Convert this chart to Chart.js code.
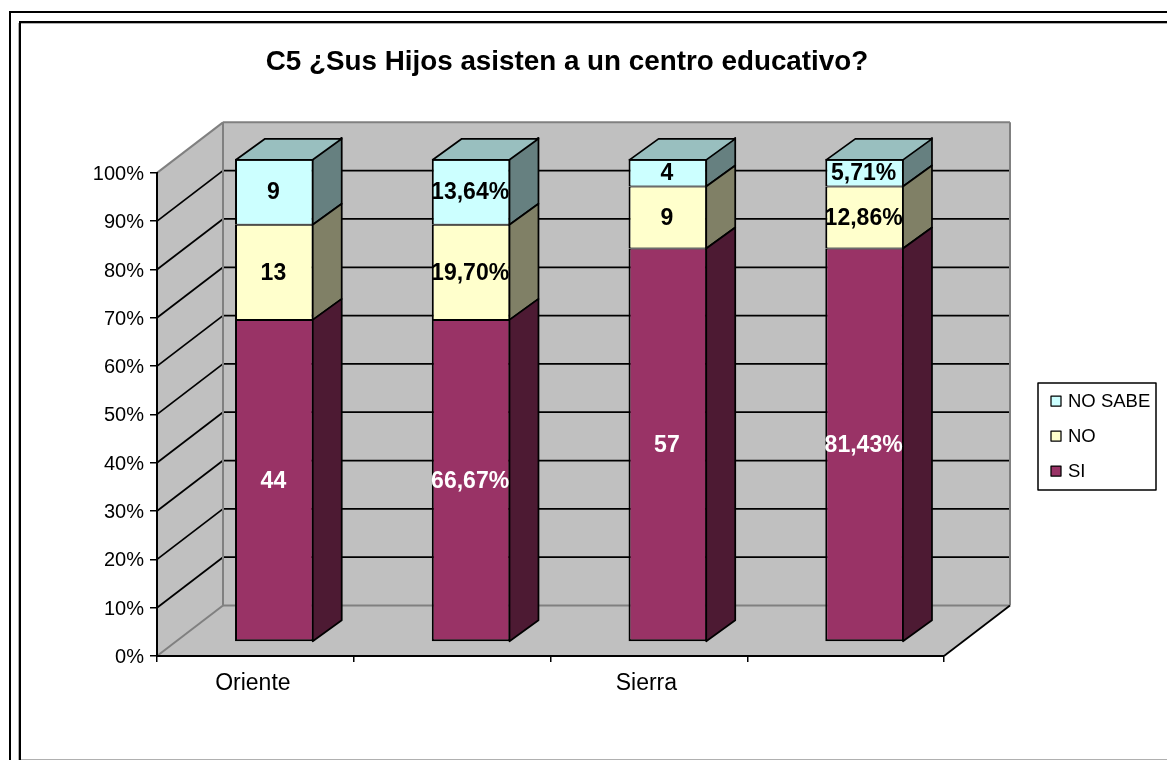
<!DOCTYPE html>
<html>
<head>
<meta charset="utf-8">
<title>C5</title>
<script src="https://cdn.jsdelivr.net/npm/chart.js@4/dist/chart.umd.min.js"></script>
<style>
html, body { margin: 0; padding: 0; background: #fff; overflow: hidden; }
#wrap { position: absolute; left: 0; top: 0; width: 1167px; height: 760px; }
</style>
</head>
<body>
<div id="wrap"><canvas id="c5chart"></canvas></div>
<script>
// data
const categories = ['Oriente', '', 'Sierra', ''];
const siValues = [66.67, 66.67, 81.43, 81.43];
const noValues = [19.70, 19.70, 12.86, 12.86];
const noSabeValues = [13.64, 13.64, 5.71, 5.71];

// text printed on the bars (counts and percentages alternate)
const siLabels = ['44', '66,67%', '57', '81,43%'];
const noLabels = ['13', '19,70%', '9', '12,86%'];
const noSabeLabels = ['9', '13,64%', '4', '5,71%'];

const chartTitle = 'C5 ¿Sus Hijos asisten a un centro educativo?';
const FONT = '"Liberation Sans", Arial, sans-serif';

// 3d look: how far the back wall and the bars sit behind the axes
const wallDepth = { x: 66, y: -50.5 };
const barShift = { x: 19, y: -14 };
const barDepth = { x: 29, y: -21 };

function poly(ctx, pts, fill, stroke, lw) {
    ctx.beginPath();
    pts.forEach((p, i) => i ? ctx.lineTo(p[0], p[1]) : ctx.moveTo(p[0], p[1]));
    ctx.closePath();
    if (fill) { ctx.fillStyle = fill; ctx.fill(); }
    if (stroke) { ctx.strokeStyle = stroke; ctx.lineWidth = lw; ctx.lineJoin = 'round'; ctx.stroke(); }
}

function line(ctx, x1, y1, x2, y2, color, lw) {
    ctx.beginPath();
    ctx.moveTo(x1, y1);
    ctx.lineTo(x2, y2);
    ctx.strokeStyle = color;
    ctx.lineWidth = lw;
    ctx.stroke();
}

// the frames around the chart and the grey box walls + floor
const wallsPlugin = {
    id: 'walls',
    afterLayout(chart) {
        // title is centred on the whole frame, not on the plot
        chart.titleBlock.left = 0;
        chart.titleBlock.right = 1134;
    },
    beforeDraw(chart) {
        const ctx = chart.ctx;
        const a = chart.chartArea;
        const dx = wallDepth.x, dy = wallDepth.y;
        const yScale = chart.scales.y;
        ctx.save();

        ctx.fillStyle = '#000';
        ctx.fillRect(9, 11, 1158, 2);
        ctx.fillRect(9, 11, 2, 749);
        ctx.fillRect(19, 21, 1148, 2);
        ctx.fillRect(19, 21, 2, 739);
        ctx.fillStyle = '#b0b0b0';
        ctx.fillRect(18, 23, 1, 737);
        ctx.fillRect(21, 23, 1146, 1);
        ctx.fillRect(21, 759, 1146, 1);

        const g = '#c0c0c0';
        poly(ctx, [[a.left + dx, a.top + dy], [a.right + dx, a.top + dy], [a.right + dx, a.bottom + dy], [a.left + dx, a.bottom + dy]], g);
        poly(ctx, [[a.left, a.top], [a.left + dx, a.top + dy], [a.left + dx, a.bottom + dy], [a.left, a.bottom]], g);
        poly(ctx, [[a.left, a.bottom], [a.left + dx, a.bottom + dy], [a.right + dx, a.bottom + dy], [a.right, a.bottom]], g);

        // gridlines run along the side wall and the back wall
        yScale.ticks.forEach(t => {
            if (t.value === 0 || t.value === 100) return;
            const y = yScale.getPixelForValue(t.value);
            line(ctx, a.left, y, a.left + dx, y + dy, '#000', 1.75);
            line(ctx, a.left + dx, y + dy, a.right + dx, y + dy, '#000', 1.75);
        });

        const edge = '#808080';
        line(ctx, a.left, a.top, a.left + dx, a.top + dy, edge, 2);
        line(ctx, a.left + dx, a.top + dy, a.right + dx, a.top + dy, edge, 2);
        line(ctx, a.right + dx, a.top + dy, a.right + dx, a.bottom + dy, edge, 2);
        line(ctx, a.left + dx, a.top + dy, a.left + dx, a.bottom + dy, edge, 2);
        line(ctx, a.left + dx, a.bottom + dy, a.right + dx, a.bottom + dy, edge, 2);
        line(ctx, a.left, a.bottom, a.left + dx, a.bottom + dy, edge, 2);
        line(ctx, a.right, a.bottom, a.right + dx, a.bottom + dy, '#000', 1.75);
        ctx.restore();
    },
    beforeDatasetDraw(chart) {
        chart.ctx.save();
        chart.ctx.translate(barShift.x, barShift.y);
    },
    afterDatasetDraw(chart, args) {
        const ctx = chart.ctx;
        const ds = chart.data.datasets[args.index];
        const last = args.index === chart.data.datasets.length - 1;
        const dx = barDepth.x, dy = barDepth.y;
        args.meta.data.forEach(el => {
            const p = el.getProps(['x', 'y', 'base', 'width'], true);
            const l = p.x - p.width / 2, r = p.x + p.width / 2;
            poly(ctx, [[r - 1, p.y], [r - 1 + dx, p.y + dy], [r - 1 + dx, p.base + dy], [r - 1, p.base]], ds.sideColor, '#000', 1.75);
            if (last) {
                poly(ctx, [[l + 1, p.y + 1], [l + 1 + dx, p.y + 1 + dy], [r - 1 + dx, p.y + 1 + dy], [r - 1, p.y + 1]], ds.topColor, '#000', 1.75);
            }
        });
        ctx.restore();
    },
    afterDatasetsDraw(chart) {
        const ctx = chart.ctx;
        ctx.save();
        ctx.textAlign = 'center';
        ctx.textBaseline = 'middle';
        ctx.font = 'bold 23px ' + FONT;
        chart.data.datasets.forEach((ds, i) => {
            chart.getDatasetMeta(i).data.forEach((el, j) => {
                const p = el.getProps(['x', 'y', 'base'], true);
                ctx.fillStyle = ds.labelColor;
                ctx.fillText(ds.barLabels[j], p.x + barShift.x - 1, (p.y + p.base) / 2 + barShift.y + 1);
            });
        });

        // legend box
        poly(ctx, [[1038, 383], [1156, 383], [1156, 490], [1038, 490]], '#fff', '#000', 1.5);
        ctx.textAlign = 'left';
        ctx.font = '18.5px ' + FONT;
        const rows = [2, 1, 0];
        rows.forEach((d, i) => {
            const ds = chart.data.datasets[d];
            const y = 401 + i * 35;
            ctx.fillStyle = ds.backgroundColor;
            ctx.fillRect(1051, y - 5, 10, 10);
            ctx.strokeStyle = '#000';
            ctx.lineWidth = 1.25;
            ctx.strokeRect(1051, y - 5, 10, 10);
            ctx.fillStyle = '#000';
            ctx.fillText(ds.label, 1068, y + 1);
        });
        ctx.restore();
    }
};

new Chart('c5chart', {
    type: 'bar',
    data: {
        labels: categories,
        datasets: [{
            label: 'SI',
            data: siValues,
            barLabels: siLabels,
            labelColor: '#fff',
            backgroundColor: '#993366',
            sideColor: '#4d1a33',
            topColor: '#732650',
            borderColor: '#000',
            borderWidth: { top: 1, left: 2, right: 2, bottom: 2 },
            borderSkipped: false,
            clip: false
        }, {
            label: 'NO',
            data: noValues,
            barLabels: noLabels,
            labelColor: '#000',
            backgroundColor: '#ffffcc',
            sideColor: '#808066',
            topColor: '#bfbf99',
            borderColor: '#000',
            borderWidth: { top: 1, left: 2, right: 2, bottom: 1 },
            borderSkipped: false,
            clip: false
        }, {
            label: 'NO SABE',
            data: noSabeValues,
            barLabels: noSabeLabels,
            labelColor: '#000',
            backgroundColor: '#ccffff',
            sideColor: '#668080',
            topColor: '#99bfbf',
            borderColor: '#000',
            borderWidth: { top: 2, left: 2, right: 2, bottom: 1 },
            borderSkipped: false,
            clip: false
        }]
    },
    plugins: [wallsPlugin],
    options: {
        responsive: true,
        maintainAspectRatio: false,
        animation: false,
        categoryPercentage: 0.4,
        barPercentage: 1,
        layout: {
            padding: { left: 57, right: 223, top: 0, bottom: 34 }
        },
        scales: {
            x: {
                stacked: true,
                afterFit(scale) { scale.height = 70; },
                border: { color: '#000', width: 2 },
                grid: { drawOnChartArea: false, drawTicks: true, tickLength: 6, color: '#000', lineWidth: 1.5 },
                ticks: {
                    autoSkip: false,
                    maxRotation: 0,
                    color: '#000',
                    padding: 8,
                    labelOffset: -2.5,
                    font: { family: FONT, size: 23 }
                }
            },
            y: {
                stacked: true,
                min: 0,
                max: 100,
                afterFit(scale) { scale.width = 100; },
                border: { color: '#000', width: 2 },
                grid: { drawOnChartArea: false, drawTicks: true, tickLength: 7, color: '#000', lineWidth: 1.5 },
                ticks: {
                    stepSize: 10,
                    color: '#000',
                    padding: 6,
                    labelOffset: 1.5,
                    font: { family: FONT, size: 20 },
                    callback: v => v + '%'
                }
            }
        },
        plugins: {
            legend: { display: false },
            tooltip: { enabled: false },
            title: {
                display: true,
                text: chartTitle,
                color: '#000',
                font: { family: FONT, size: 27.8, weight: 'bold', lineHeight: 1.2 },
                padding: { top: 46, bottom: 93.5 }
            }
        }
    }
});
</script>
</body>
</html>
